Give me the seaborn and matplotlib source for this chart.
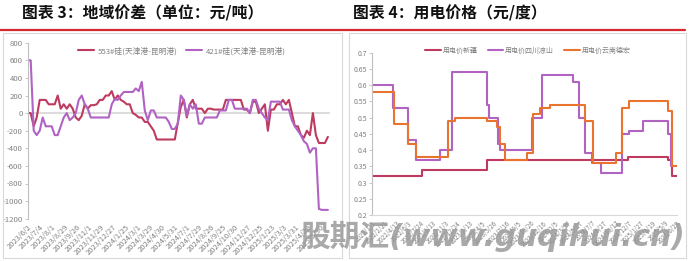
import numpy as np
import pandas as pd
import matplotlib
matplotlib.use("Agg")
import matplotlib.pyplot as plt
import seaborn as sns
from matplotlib.lines import Line2D
from matplotlib.patches import Rectangle

sns.set_theme(style="white")
plt.rcParams["font.family"] = ["Noto Sans CJK SC", "DejaVu Sans"]
plt.rcParams["axes.unicode_minus"] = False

# ---------------- left chart data: 地域价差 ----------------
left_series = ["553#硅(天津港-昆明港)", "421#硅(天津港-昆明港)"]
s553 = [0, 0, -150, -50, 150, 150, 150, 100, 100, 100, 200,
        50, 100, 50, 100, 50, -50, -80, -30, 100, 50,
        90, 90, 100, 150, 150, 200, 200, 250, 150, 200,
        150, 130, 100, 100, 0, -20, -50, -50, -100, -100,
        -150, -200, -300, -300, -300, -300, -300, -300, -300, -110,
        70, 150, -50, 100, 150, 50, 50, 50, 0, 50,
        50, 40, 40, 40, 40, 150, 150, 150, 150, 150,
        150, 40, 40, 0, 130, 130, 0, 50, 100, -200,
        40, 40, 100, 100, 150, 100, 150, 0, -150, -150,
        -250, -280, -200, -250, 0, -250, -340, -340, -340, -270]
s421 = [600, 600, -200, -250, -200, -50, -150, -150, -150, -250, -250,
        -150, -50, 0, -80, -50, 0, 150, 200, 100, 50,
        -50, -50, -50, -50, -50, -50, -50, 100, 160, 150,
        200, 240, 240, 240, 240, 280, 250, 355, 30, -80,
        30, 30, -50, -50, -50, -50, -100, -180, -180, -120,
        200, 150, -30, 100, 50, 100, -120, -120, -50, -50,
        -50, -50, -50, 30, 30, 30, 150, 150, 50, 50,
        50, 50, 50, 0, 150, 150, 50, 0, -50, -80,
        130, 130, 130, 130, 40, 40, 40, -80, -150, -200,
        -250, -320, -350, -450, -400, -400, -1090, -1100, -1100, -1100]
left_ticklabels = ["2023/6/2", "2023/7/4", "2023/8/1", "2023/8/29", "2023/9/26",
                   "2023/11/1", "2023/11/29", "2023/12/27", "2024/1/25", "2024/3/1",
                   "2024/3/29", "2024/4/30", "2024/5/31", "2024/7/1", "2024/7/29",
                   "2024/8/26", "2024/9/25", "2024/10/30", "2024/11/27", "2024/12/25",
                   "2025/1/23", "2025/3/3", "2025/3/31", "2025/4/29", "2025/5/30"]
left_yticks = [-1200, -1000, -800, -600, -400, -200, 0, 200, 400, 600, 800]

# ---------------- right chart data: 用电价格 ----------------
right_series = ["用电价新疆", "用电价四川凉山", "用电价云南德宏"]
xj_dates = ["2022-01-01", "2022-07-29", "2023-04-27", "2024-12-06", "2025-05-22",
            "2025-06-08", "2025-06-29"]
xj_vals = [0.32, 0.34, 0.37, 0.38, 0.37, 0.32, 0.32]
sc_dates = ["2022-01-01", "2022-03-30", "2022-05-31", "2022-07-04", "2022-10-12",
            "2022-12-01", "2023-04-27", "2023-05-05", "2023-06-12", "2023-06-20",
            "2023-11-01", "2023-12-13", "2024-04-20", "2024-05-15", "2024-06-09",
            "2024-07-09", "2024-08-15", "2024-11-11", "2024-12-10", "2025-02-07",
            "2025-05-22", "2025-06-04", "2025-06-29"]
sc_vals = [0.60, 0.53, 0.43, 0.37, 0.40, 0.64, 0.54, 0.50, 0.42, 0.40,
           0.50, 0.63, 0.61, 0.50, 0.39, 0.36, 0.33, 0.45, 0.46, 0.49,
           0.45, 0.35, 0.35]
yn_dates = ["2022-01-01", "2022-04-03", "2022-05-31", "2022-07-04", "2022-11-15",
            "2022-12-14", "2023-04-27", "2023-06-08", "2023-06-20", "2023-07-11",
            "2023-10-11", "2023-11-05", "2023-12-04", "2024-01-15", "2024-06-09",
            "2024-07-13", "2024-10-17", "2024-11-11", "2024-12-10", "2025-05-22",
            "2025-06-08", "2025-06-29"]
yn_vals = [0.58, 0.48, 0.42, 0.38, 0.49, 0.50, 0.49, 0.47, 0.42, 0.37,
           0.39, 0.51, 0.53, 0.54, 0.49, 0.36, 0.39, 0.53, 0.55, 0.52,
           0.35, 0.35]
right_tickdates = ["2022-01-01", "2022-02-21", "2022-04-13", "2022-06-03", "2022-07-24",
                   "2022-09-13", "2022-11-03", "2022-12-24", "2023-02-13", "2023-04-05",
                   "2023-05-26", "2023-07-16", "2023-09-05", "2023-10-26", "2023-12-16",
                   "2024-02-05", "2024-03-27", "2024-05-17", "2024-07-07", "2024-08-27",
                   "2024-10-17", "2024-12-07", "2025-01-27", "2025-03-19", "2025-05-09",
                   "2025-06-29"]
right_yticks = [0.2, 0.25, 0.3, 0.35, 0.4, 0.45, 0.5, 0.55, 0.6, 0.65, 0.7]
right_yticklabels = ["0.2", "0.25", "0.3", "0.35", "0.4", "0.45", "0.5", "0.55",
                     "0.6", "0.65", "0.7"]

C_CRIMSON = "#BE3A5E"
C_PURPLE = "#B163C4"
C_ORANGE = "#E8742F"
GRAY_TXT = "#808080"
W, H = 699, 261

fig = plt.figure(figsize=(W / 100, H / 100), dpi=100)

# panel frames and header lines
for (x0, x1) in [(3, 342), (349, 686)]:
    fig.patches.append(Rectangle((x0 / W, 1 - 258 / H), (x1 - x0) / W, 225 / H,
                                 transform=fig.transFigure, fill=False,
                                 edgecolor="#D9D9D9", lw=0.8))
fig.lines.append(Line2D([0, 685 / W], [1 - 30.2 / H] * 2, transform=fig.transFigure,
                        color="#D42A2F", lw=1.6))
fig.text(21.5 / W, 1 - 13 / H, "图表 3：地域价差（单位：元/吨）", fontsize=11.4,
         weight="bold", color="#111111", va="center", ha="left")
fig.text(353 / W, 1 - 13 / H, "图表 4：用电价格（元/度）", fontsize=11.4,
         weight="bold", color="#111111", va="center", ha="left")

# ---------------- left axes ----------------
ax1 = fig.add_axes([27.7 / W, 1 - 218.7 / H, 302.3 / W, 176 / H])
n = len(s553)
df1 = pd.DataFrame({
    "idx": list(range(n)) * 2,
    "value": s553 + s421,
    "series": [left_series[0]] * n + [left_series[1]] * n,
})
ax1.axhline(0, color="#D9D9D9", lw=1.3, zorder=0)
sns.lineplot(data=df1, x="idx", y="value", hue="series",
             palette=[C_CRIMSON, C_PURPLE], lw=1.5, ax=ax1, legend=False)
ax1.set_xlim(0, n - 0.3)
ax1.set_ylim(-1200, 800)
ax1.set_yticks(left_yticks)
ax1.set_yticklabels([str(v) for v in left_yticks])
ax1.set_xticks(np.arange(len(left_ticklabels)) * 4.06)
ax1.set_xticklabels(left_ticklabels, rotation=45, ha="right", rotation_mode="anchor")
ax1.set_xlabel("")
ax1.set_ylabel("")
for s in ["top", "right", "bottom"]:
    ax1.spines[s].set_visible(False)
ax1.spines["left"].set_color("#BFBFBF")
ax1.spines["left"].set_linewidth(0.8)
ax1.tick_params(axis="y", length=2, width=0.6, color="#BFBFBF", labelsize=5.6,
                labelcolor=GRAY_TXT, pad=1.5, left=True)
ax1.tick_params(axis="x", length=0, labelsize=5.4, labelcolor=GRAY_TXT, pad=3)
ax1.set_facecolor("none")
h1 = [Line2D([], [], color=C_CRIMSON, lw=1.5), Line2D([], [], color=C_PURPLE, lw=1.5)]
ax1.legend(h1, left_series, loc="center", bbox_to_anchor=(182 / W, 1 - 51 / H),
           bbox_transform=fig.transFigure, ncol=2, frameon=False, fontsize=5.6,
           handlelength=2.0, handletextpad=0.47, columnspacing=1.15,
           labelcolor=GRAY_TXT, borderpad=0, borderaxespad=0)

# ---------------- right axes ----------------
ax2 = fig.add_axes([372 / W, 1 - 215.2 / H, 305 / W, 162.5 / H])
for dates, vals, col in [(xj_dates, xj_vals, C_CRIMSON),
                         (sc_dates, sc_vals, C_PURPLE),
                         (yn_dates, yn_vals, C_ORANGE)]:
    sns.lineplot(x=pd.to_datetime(dates), y=vals, color=col, lw=1.5,
                 drawstyle="steps-post", ax=ax2)
ax2.set_xlim(pd.Timestamp("2022-01-01"), pd.Timestamp("2025-06-29"))
ax2.set_ylim(0.2, 0.7)
ax2.set_yticks(right_yticks)
ax2.set_yticklabels(right_yticklabels)
tick_dt = pd.to_datetime(right_tickdates)
ax2.set_xticks(tick_dt)
ax2.set_xticklabels([f"{d.year}/{d.month}/{d.day}" for d in tick_dt], rotation=45,
                    ha="right", rotation_mode="anchor")
ax2.set_xlabel("")
ax2.set_ylabel("")
for s in ["top", "right"]:
    ax2.spines[s].set_visible(False)
ax2.spines["left"].set_color("#BFBFBF")
ax2.spines["left"].set_linewidth(0.8)
ax2.spines["bottom"].set_color("#D9D9D9")
ax2.spines["bottom"].set_linewidth(0.8)
ax2.tick_params(axis="y", length=2, width=0.6, color="#BFBFBF", labelsize=5,
                labelcolor=GRAY_TXT, pad=1.5, left=True)
ax2.tick_params(axis="x", length=0, labelsize=4.5, labelcolor=GRAY_TXT, pad=3)
ax2.set_facecolor("none")
h2 = [Line2D([], [], color=c, lw=1.5) for c in [C_CRIMSON, C_PURPLE, C_ORANGE]]
ax2.legend(h2, right_series, loc="center", bbox_to_anchor=(528 / W, 1 - 50.7 / H),
           bbox_transform=fig.transFigure, ncol=3, frameon=False, fontsize=5,
           handlelength=2.2, handletextpad=0.3, columnspacing=1.45,
           labelcolor=GRAY_TXT, borderpad=0, borderaxespad=0)

# watermark
fig.text(300 / W, 1 - 236 / H, "股期汇(www.guqihui.cn)", fontsize=21.4, weight="bold",
         style="italic", family=["DejaVu Sans", "Noto Sans CJK SC"],
         color="#9A9A9A", alpha=0.85, va="center", ha="left", zorder=20)

fig.savefig("out.png", dpi=100)
